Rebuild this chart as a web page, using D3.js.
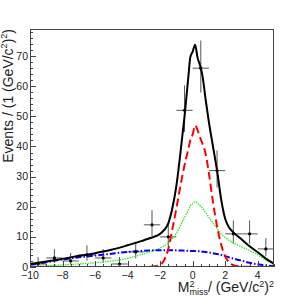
<!DOCTYPE html>
<html><head><meta charset="utf-8">
<script src="https://cdn.jsdelivr.net/npm/d3@7"></script>
<style>html,body{margin:0;padding:0;background:#fff;}svg{display:block;font-family:"Liberation Sans",Arial,sans-serif;}</style>
</head><body>
<script>
// ---- data ----
const binCenters = [-9.5,-8.5,-7.5,-6.5,-5.5,-4.5,-3.5,-2.5,-1.5,-0.5,0.5,1.5,2.5,3.5,4.5];
const counts     = [1,3,2,4,3,1,5,14,10,52,66,32,11,11,6];
const errLow     = [0.83,1.63,1.29,1.91,1.63,0.83,2.15,3.69,3.10,7.18,8.10,5.63,3.26,3.26,2.38];
const errHigh    = [2.32,2.94,2.66,3.18,2.94,2.32,3.40,4.84,4.28,8.26,9.17,6.72,4.43,4.43,3.60];
const binWidth = 1;

const curveX   = [-10,-9,-8,-7,-6,-5,-4,-3.5,-3,-2.5,-2,-1.75,-1.5,-1.25,-1,-0.75,-0.5,-0.25,-0.15,0,0.15,0.3,0.45,0.6,0.8,1,1.25,1.5,1.75,2,2.25,2.5,3,3.5,4,4.5,5];
const totalFit = [1.0,1.8,2.7,3.7,4.6,5.7,7.2,8.0,8.9,9.8,11.0,12.3,14.5,19.5,27,38,50,64,69.5,71.5,73.8,69.5,67,63.5,55.5,48,40,32,22.5,16,13,11.5,9.2,6.9,4.9,2.8,1.1];
const signal   = [0,0,0,0,0,0,0,0,0.02,0.15,0.7,2.3,6,12.5,19.5,27,33.8,39.5,42,44,47,45.5,43,41,37.5,31,21.5,13.5,7.5,3.5,1.5,0.6,0.15,0.05,0,0,0];
const peaking  = [0.2,0.4,0.7,1.0,1.4,2.0,2.9,3.6,4.4,5.3,6.3,7.0,8.0,9.4,11.2,13.8,16.5,19,20.3,21,21.7,21.2,20.4,19.5,18,16.5,14.6,12.8,11,9.8,8.8,8,6.7,5.5,4,2.3,0.9];
const combinat = [0.7,1.6,2.5,3.2,3.8,4.4,5.0,5.2,5.4,5.5,5.6,5.6,5.6,5.6,5.5,5.5,5.4,5.4,5.3,5.3,5.3,5.2,5.2,5.1,5.0,4.8,4.6,4.3,4.0,3.6,3.2,2.8,2.1,1.4,0.9,0.5,0.3];

const xTicks = [-10,-8,-6,-4,-2,0,2,4];
const yTicks = [0,10,20,30,40,50,60,70];

// ---- layout ----
const W = 305, H = 296;
const L = 30, R = 274, T = 29, B = 267;
const svg = d3.select("body").append("svg").attr("width", W).attr("height", H);
svg.append("rect").attr("width", W).attr("height", H).attr("fill", "#fff");

const x = d3.scaleLinear().domain([-10, 5]).range([L, R]);
const y = d3.scaleLinear().domain([0, 79]).range([B, T]);

svg.append("clipPath").attr("id", "clip").append("rect")
  .attr("x", L).attr("y", T).attr("width", R - L).attr("height", B - T);

const g = svg.append("g").attr("clip-path", "url(#clip)");

// error bars
const pts = binCenters.map((c, i) => ({c, n: counts[i], lo: errLow[i], hi: errHigh[i]}));
g.selectAll("line.h").data(pts).enter().append("line")
  .attr("x1", d => x(d.c - binWidth / 2)).attr("x2", d => x(d.c + binWidth / 2))
  .attr("y1", d => y(d.n)).attr("y2", d => y(d.n))
  .attr("stroke", "#555").attr("stroke-width", 1);
g.selectAll("line.v").data(pts).enter().append("line")
  .attr("x1", d => x(d.c)).attr("x2", d => x(d.c))
  .attr("y1", d => y(d.n - d.lo)).attr("y2", d => y(d.n + d.hi))
  .attr("stroke", "#555").attr("stroke-width", 1);

// curves
function drawCurve(vals, color, width, dash) {
  const line = d3.line().x((d, i) => x(curveX[i])).y(d => y(d)).curve(d3.curveMonotoneX);
  g.append("path").datum(vals).attr("d", line)
    .attr("fill", "none").attr("stroke", color).attr("stroke-width", width)
    .attr("stroke-dasharray", dash || null).attr("stroke-linejoin", "round");
}
drawCurve(peaking, "#22ee22", 1.3, "1.5,1");
drawCurve(combinat, "#0000ff", 2, "6,2,1.5,2");
drawCurve(signal, "#ff0000", 2, "8,4");
drawCurve(totalFit, "#000", 2, null);

// markers
g.selectAll("circle").data(pts).enter().append("circle")
  .attr("cx", d => x(d.c)).attr("cy", d => y(d.n)).attr("r", 1.6).attr("fill", "#000");

// frame
svg.append("rect").attr("x", L + 0.5).attr("y", T + 0.5).attr("width", R - L - 1).attr("height", B - T - 1)
  .attr("fill", "none").attr("stroke", "#444").attr("stroke-width", 1);

// y axis ticks
const yMinor = d3.range(0, 79, 2);
svg.selectAll("line.ym").data(yMinor).enter().append("line")
  .attr("x1", L).attr("x2", d => L + (d % 10 === 0 ? 6 : 3))
  .attr("y1", d => Math.round(y(d)) + 0.5).attr("y2", d => Math.round(y(d)) + 0.5)
  .attr("stroke", "#444").attr("stroke-width", 1);
svg.selectAll("text.yl").data(yTicks).enter().append("text")
  .attr("x", L - 2).attr("y", d => y(d)).attr("dy", "0.34em")
  .attr("text-anchor", "end").attr("font-size", 10.5).attr("fill", "#222").text(d => d);

// x axis ticks
const xMinor = d3.range(-10, 5.01, 0.5);
svg.selectAll("line.xm").data(xMinor).enter().append("line")
  .attr("y1", B).attr("y2", d => B - (Math.abs(d % 2) < 1e-6 ? 6 : 3))
  .attr("x1", d => Math.round(x(d)) + 0.5).attr("x2", d => Math.round(x(d)) + 0.5)
  .attr("stroke", "#444").attr("stroke-width", 1);
svg.selectAll("text.xl").data(xTicks).enter().append("text")
  .attr("x", d => x(d)).attr("y", 278.5)
  .attr("text-anchor", "middle").attr("font-size", 10.5).attr("fill", "#222")
  .text(d => d < 0 ? "\u2212" + Math.abs(d) : d);

// x axis title, laid out piece by piece and right-aligned at R
const xtBase = 292;
const xg = svg.append("g");
const pieces = [];
function piece(txt, size, dy, advance) {
  const t = xg.append("text").attr("font-size", size).attr("fill", "#222").attr("y", xtBase + dy).text(txt);
  pieces.push({t, w: t.node().getComputedTextLength(), advance});
  return t;
}
piece("M", 14, 0, true);
piece("2", 9, -5, false);     // superscript shares position with subscript
piece("miss", 9, 3, true);
piece(" / (GeV/c", 14, 0, true);
piece("2", 9, -5, true);
piece(")", 14, 0, true);
piece("2", 9, -5, true);
let total = pieces.filter(p => p.advance).reduce((s, p) => s + p.w, 0);
let cx = R - total;
pieces.forEach(p => { p.t.attr("x", cx); if (p.advance) cx += p.w; });

// y axis title
const yt = svg.append("text").attr("transform", `translate(13,${T}) rotate(-90)`)
  .attr("text-anchor", "end").attr("font-size", 14).attr("fill", "#222");
yt.append("tspan").text("Events / (1 (GeV/c");
yt.append("tspan").attr("font-size", 9).attr("dy", -6).text("2");
yt.append("tspan").attr("dy", 6).text(")");
yt.append("tspan").attr("font-size", 9).attr("dy", -6).text("2");
yt.append("tspan").attr("dy", 6).text(")");
</script>
</body></html>
